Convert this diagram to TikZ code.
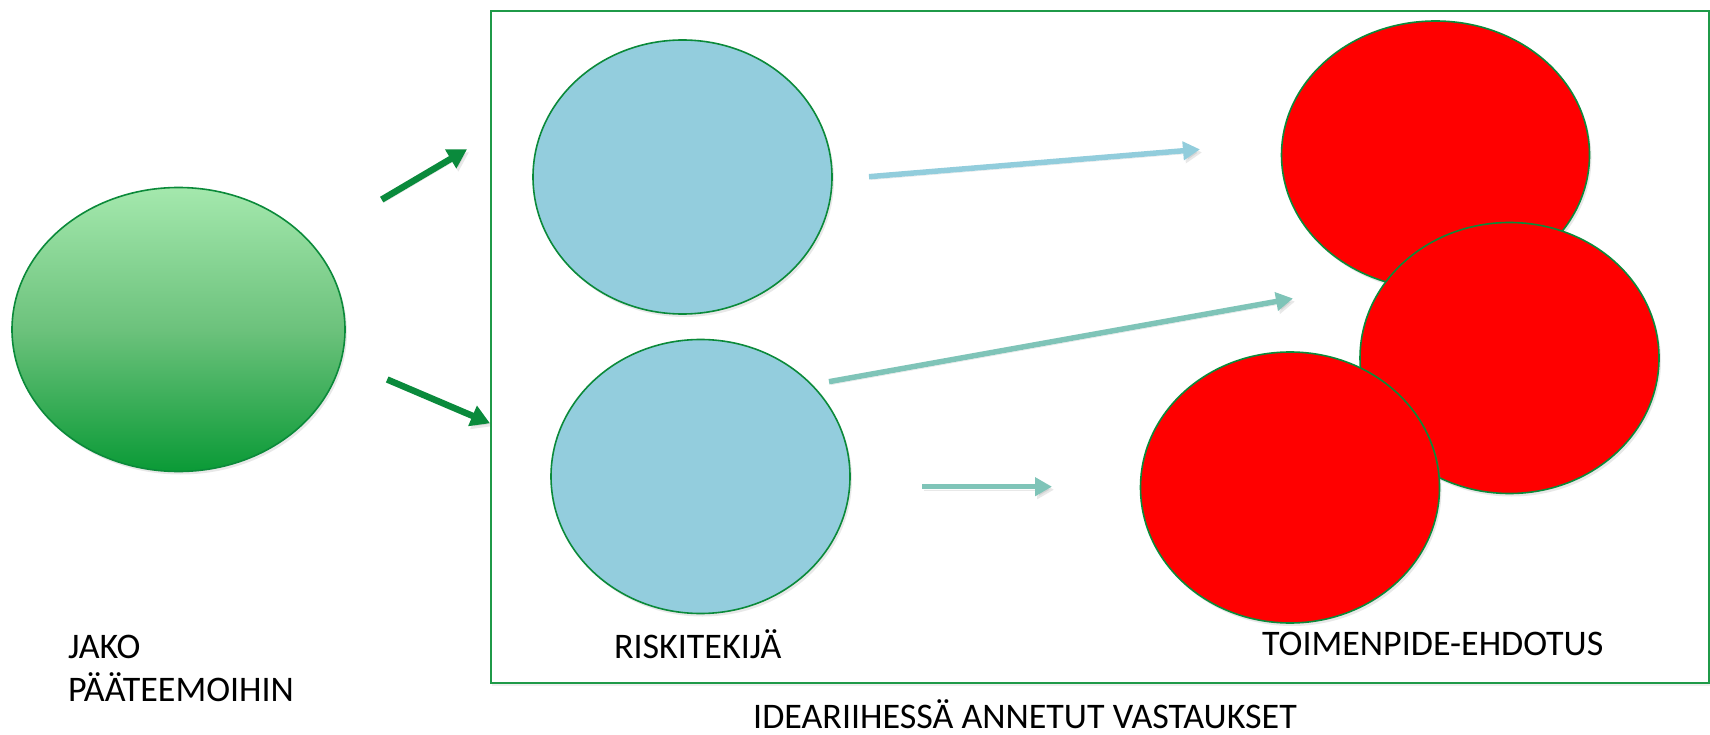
\documentclass[tikz,border=0pt]{standalone}
\usepackage{fontspec}
\setmainfont{Carlito}
\usetikzlibrary{shapes.geometric,arrows.meta,shadows}
\definecolor{outl}{HTML}{0B8A3A}
\definecolor{boxg}{HTML}{1F9A48}
\definecolor{garrow}{HTML}{0A8A3C}
\definecolor{barrow}{HTML}{92CDDC}
\definecolor{tarrow}{HTML}{7FC4B8}
\definecolor{bfill}{HTML}{93CDDD}
\definecolor{rfill}{HTML}{FF0000}
\definecolor{gtop}{HTML}{A4E8AD}
\definecolor{gmid}{HTML}{6CC27C}
\definecolor{gbot}{HTML}{0A9A36}
\tikzset{
  softshadow/.style={drop shadow={opacity=0.18, shadow xshift=2pt, shadow yshift=-3pt}},
  arrshadow/.style={preaction={draw=black!60, fill=black!60, opacity=0.15, transform canvas={shift={(2pt,-3pt)}}}},
  oval/.style={ellipse, draw=outl, line width=1.6pt, inner sep=0pt, softshadow},
  blueoval/.style={oval, fill=bfill, minimum width=299pt, minimum height=274pt},
  redoval/.style={oval, fill=rfill, minimum width=299pt, minimum height=271pt},
  lbl/.style={font=\fontsize{36}{43}\selectfont, inner sep=0pt, anchor=base west, text=black},
  garr/.style={draw=garrow, line width=6.5pt, -{Triangle[length=19pt,width=21pt]}, arrshadow},
  barr/.style={draw=barrow, line width=5.5pt, -{Triangle[length=17pt,width=18pt]}, arrshadow},
  tarr/.style={draw=tarrow, line width=5.5pt, -{Triangle[length=17pt,width=18pt]}, arrshadow},
}
\begin{document}
\begin{tikzpicture}[x=1pt,y=-1pt]
\useasboundingbox[fill=white] (0,0) rectangle (1710,735);
% frame
\node[draw=boxg, line width=2pt, inner sep=0pt, minimum width=1218pt, minimum height=671pt, anchor=north west,
      drop shadow={opacity=0.12, shadow xshift=1pt, shadow yshift=-3pt}, fill=white] (frame) at (490,10.5) {};
% green ellipse
\node[oval, minimum width=333pt, minimum height=284pt, top color=gtop, bottom color=gbot, middle color=gmid] (green) at (178.5,329.5) {};
% blue ellipses
\node[blueoval] (b1) at (682.5,177) {};
\node[blueoval] (b2) at (700.5,476.5) {};
% red ellipses
\node[redoval, minimum width=308pt, minimum height=268pt] (r1) at (1435.5,155) {};
\node[redoval] (r2) at (1509.5,358) {};
\node[redoval] (r3) at (1290,487.5) {};
% arrow end points
\coordinate (g1s) at (381.7,199.6);
\coordinate (g1e) at (467,149.3);
\coordinate (g2s) at (387.2,379.5);
\coordinate (g2e) at (490,423.3);
\coordinate (b1s) at (869,176.7);
\coordinate (b1e) at (1200,149.4);
\coordinate (b2s) at (829,381.7);
\coordinate (b2e) at (1293,298.5);
\coordinate (b3s) at (922,486.7);
\coordinate (b3e) at (1052,486.7);
\draw[garr] (g1s) -- (g1e);
\draw[garr] (g2s) -- (g2e);
\draw[barr] (b1s) -- (b1e);
\draw[tarr] (b2s) -- (b2e);
\draw[tarr] (b3s) -- (b3e);
% labels
\node[lbl] (jako) at (67.8,658.3) {JAKO};
\node[lbl] (paa) at (67.8,701.7) {PÄÄTEEMOIHIN};
\node[lbl] (risk) at (613.8,658.3) {RISKITEKIJÄ};
\node[lbl] (toim) at (1262,655) {TOIMENPIDE-EHDOTUS};
\node[lbl] (idea) at (753,728) {IDEARIIHESSÄ ANNETUT VASTAUKSET};
\end{tikzpicture}
\end{document}
